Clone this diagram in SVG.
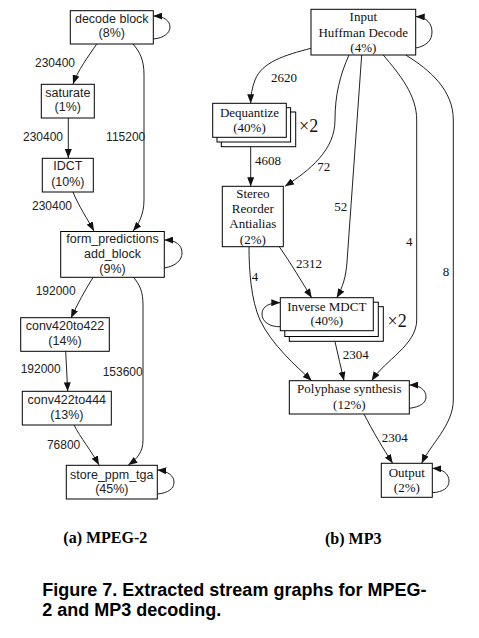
<svg xmlns="http://www.w3.org/2000/svg" width="479" height="638" viewBox="0 0 479 638">
<style>
.bx{fill:#fff;stroke:#000;stroke-width:1}
.e{fill:none;stroke:#222;stroke-width:1;marker-end:url(#ah)}
.s{font-family:"Liberation Sans",Arial,sans-serif;font-size:12.5px;fill:#222;text-anchor:middle}
.sl{font-family:"Liberation Sans",Arial,sans-serif;font-size:12px;fill:#222}
.r{font-family:"Liberation Serif","Times New Roman",serif;font-size:13px;fill:#111;text-anchor:middle}
.rl{font-family:"Liberation Serif","Times New Roman",serif;font-size:13px;fill:#111}
.x2{font-family:"Liberation Serif","Times New Roman",serif;font-size:18px;fill:#111}
.cap{font-family:"Liberation Serif","Times New Roman",serif;font-size:16px;font-weight:bold;fill:#000}
.fig{font-family:"Liberation Sans",Arial,sans-serif;font-size:18px;font-weight:bold;fill:#000}
.end{text-anchor:end}.mid{text-anchor:middle}
</style>
<defs>
<marker id="ah" markerUnits="userSpaceOnUse" markerWidth="9" markerHeight="7" refX="9" refY="3.5" orient="auto">
<path d="M0,0 L9,3.5 L0,7 z" fill="#111"/>
</marker>
</defs>
<g id="connectors">
<path class="e" d="M96.7,44 C88,57 78,70 73,84"/>
<path class="e" d="M68.3,118 L68.3,158"/>
<path class="e" d="M133,44 C140,52 144,60 144,75 L144,200 C144,215 138,225 133,231"/>
<path class="e" d="M73,192 C78,205 88,220 94,231"/>
<path class="e" d="M164.3,268 C176,266 182,260 182,253 C182,245 176,240 164.3,240"/>
<path class="e" d="M93.3,277 C85,290 77,305 71,318"/>
<path class="e" d="M65.7,351.3 L67.7,391.3"/>
<path class="e" d="M74,425 C80,437 92,452 99,465"/>
<path class="e" d="M133.3,277 C140,285 143,292 143,305 L143,440 C143,452 137,459 128.3,465"/>
<path class="e" d="M153.3,39 C164,38 170,33 170,27 C170,21 164,16 153.3,16"/>
<path class="e" d="M157.3,494 C168,493 174,489 174,482 C174,476 168,471 157.3,470"/>
<text class="sl end" x="75" y="67.3">230400</text>
<text class="sl end" x="63" y="141">230400</text>
<text class="sl mid" x="125.7" y="141">115200</text>
<text class="sl end" x="72" y="210">230400</text>
<text class="sl end" x="75.7" y="295">192000</text>
<text class="sl end" x="60.7" y="373">192000</text>
<text class="sl end" x="80.3" y="448.7">76800</text>
<text class="sl mid" x="122.7" y="376">153600</text>

<path class="e" d="M311,48.3 C285,55 262,62 255,80 C252,88 250.7,95 250.7,103.3"/>
<path class="e" d="M250.7,146.7 L250.7,186.3"/>
<path class="e" d="M349,55 C340,75 335,95 335,120 C335,150 310,170 285,186.3"/>
<path class="e" d="M361.7,55 L347,262 C346,276 343,287 336.7,297.7"/>
<path class="e" d="M383.3,55 C400,75 416.7,95 416.7,120 L416.7,320 C416.7,345 385,360 371.7,380.7"/>
<path class="e" d="M405.7,55 C430,70 453.3,90 453.3,120 L453.3,400 C453.3,425 430,445 421.7,463.3"/>
<path class="e" d="M249,246.7 C249,270 251,300 260,320 C272,345 295,365 311.7,380.7"/>
<path class="e" d="M279.3,246.7 C290,262 302,282 311.7,297.7"/>
<path class="e" d="M280.3,326.7 C270,327 262,322 262,314 C262,306 270,302.7 280.3,302.7"/>
<path class="e" d="M335,341.7 C338,355 341,368 344,380.7"/>
<path class="e" d="M409.3,408.3 C420,407 426,403 426,397 C426,390 420,385 409.3,385"/>
<path class="e" d="M364,414 C372,430 384,450 392.7,463.3"/>
<path class="e" d="M432.3,492.7 C443,492 449,488 449,481 C449,474 443,469 432.3,468.3"/>
<path class="e" d="M415.7,48 C427,46 432,40 432,32 C432,24 427,17 415.7,16.5"/>
<text class="rl" x="271" y="82.2">2620</text>
<text class="rl" x="255" y="165.2">4608</text>
<text class="rl" x="317.3" y="171.2">72</text>
<text class="rl" x="334.3" y="210.5">52</text>
<text class="rl mid" x="409.3" y="245.5">4</text>
<text class="rl mid" x="446" y="276.2">8</text>
<text class="rl mid" x="255" y="281.2">4</text>
<text class="rl" x="296" y="267.8">2312</text>
<text class="rl" x="342.7" y="359.2">2304</text>
<text class="rl" x="381.7" y="442.2">2304</text>
</g>

<g id="decode_block">
<rect class="bx" x="70.3" y="10.7" width="83" height="33.3"/>
<text class="s" x="111.8" y="23.4">decode block</text>
<text class="s" x="111.8" y="37.4">(8%)</text>
</g>
<g id="saturate">
<rect class="bx" x="41.3" y="84.3" width="53" height="33.7"/>
<text class="s" x="67.8" y="97.1">saturate</text>
<text class="s" x="67.8" y="111.4">(1%)</text>
</g>
<g id="IDCT">
<rect class="bx" x="42.3" y="158.3" width="51" height="33.7"/>
<text class="s" x="67.8" y="170.4">IDCT</text>
<text class="s" x="67.8" y="186.1">(10%)</text>
</g>
<g id="form_predictions">
<rect class="bx" x="60.7" y="231.5" width="103.6" height="45.8"/>
<text class="s" x="112.5" y="243.4">form_predictions</text>
<text class="s" x="112.5" y="258.1">add_block</text>
<text class="s" x="112.5" y="273.1">(9%)</text>
</g>
<g id="conv420to422">
<rect class="bx" x="20.7" y="317.7" width="88.6" height="33.6"/>
<text class="s" x="65" y="330.4">conv420to422</text>
<text class="s" x="65" y="345.1">(14%)</text>
</g>
<g id="conv422to444">
<rect class="bx" x="22.3" y="391.3" width="89" height="33.7"/>
<text class="s" x="66.8" y="404.4">conv422to444</text>
<text class="s" x="66.8" y="418.7">(13%)</text>
</g>
<g id="store_ppm_tga">
<rect class="bx" x="66.3" y="465.3" width="91" height="33.7"/>
<text class="s" x="111.8" y="478.7">store_ppm_tga</text>
<text class="s" x="111.8" y="493.1">(45%)</text>
</g>

<g id="input_huffman">
<rect class="bx" x="311" y="9.3" width="104.7" height="45.7"/>
<text class="r" x="363.3" y="21.2">Input</text>
<text class="r" x="363.3" y="36.5">Huffman Decode</text>
<text class="r" x="363.3" y="51.8">(4%)</text>
</g>
<g id="dequantize">
<rect class="bx" x="221.3" y="112" width="74.4" height="34.7"/>
<rect class="bx" x="217" y="107.7" width="73.6" height="34.3"/>
<rect class="bx" x="212.7" y="103.3" width="73.6" height="34"/>
<text class="r" x="249.5" y="116.5">Dequantize</text>
<text class="r" x="249.5" y="131.5">(40%)</text>
<text class="x2" x="299" y="132">×2</text>
</g>
<g id="stereo">
<rect class="bx" x="222.3" y="186.3" width="61" height="60.4"/>
<text class="r" x="252.8" y="197.5">Stereo</text>
<text class="r" x="252.8" y="212.5">Reorder</text>
<text class="r" x="252.8" y="227.8">Antialias</text>
<text class="r" x="252.8" y="243.5">(2%)</text>
</g>
<g id="inverse_mdct">
<rect class="bx" x="289.3" y="306.7" width="94" height="34.6"/>
<rect class="bx" x="284.8" y="302.2" width="93.5" height="34.3"/>
<rect class="bx" x="280.3" y="297.7" width="93" height="33"/>
<text class="r" x="326.8" y="310.5">Inverse MDCT</text>
<text class="r" x="326.8" y="325.2">(40%)</text>
<text class="x2" x="387.5" y="327">×2</text>
</g>
<g id="polyphase">
<rect class="bx" x="289.3" y="380.7" width="120" height="33.3"/>
<text class="r" x="349.3" y="393.2">Polyphase synthesis</text>
<text class="r" x="349.3" y="408.5">(12%)</text>
</g>
<g id="output">
<rect class="bx" x="381.3" y="463.3" width="51" height="34"/>
<text class="r" x="406.8" y="476.8">Output</text>
<text class="r" x="406.8" y="491.5">(2%)</text>
</g>

<g id="captions">
<text class="cap" x="63.3" y="543">(a) MPEG-2</text>
<text class="cap" x="325" y="544">(b) MP3</text>
<text class="fig" x="42.3" y="596.3">Figure 7. Extracted stream graphs for MPEG-</text>
<text class="fig" x="42.3" y="616.3">2 and MP3 decoding.</text>
</g>
</svg>
